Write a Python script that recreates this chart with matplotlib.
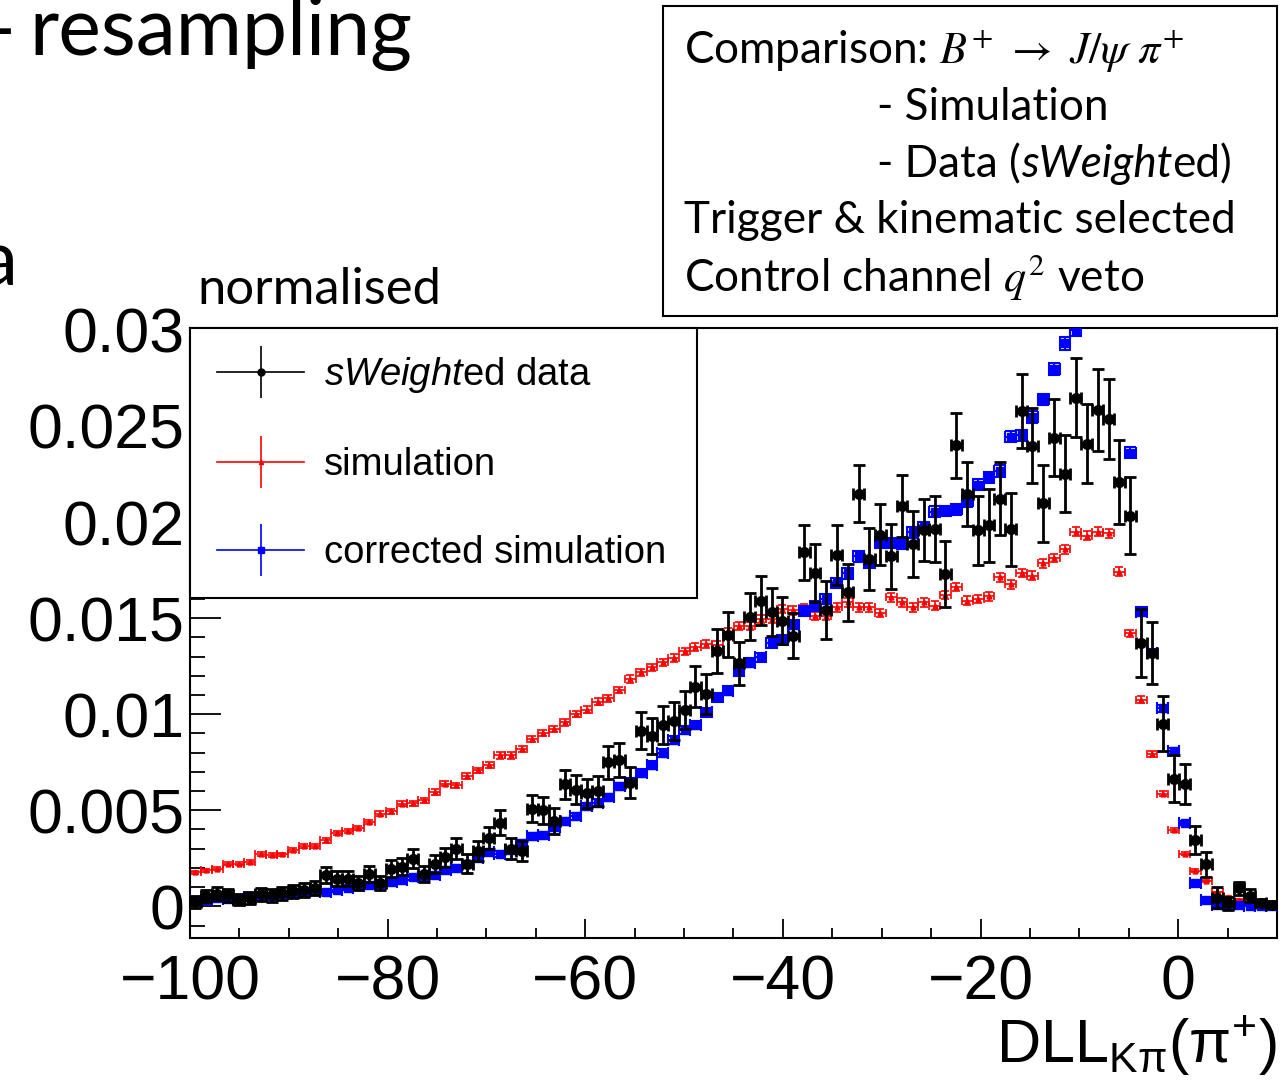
import numpy as np
import matplotlib
matplotlib.use("Agg")
import matplotlib.pyplot as plt
from matplotlib.font_manager import FontProperties
from matplotlib.legend_handler import HandlerTuple
from matplotlib.lines import Line2D
from matplotlib.patches import Rectangle
from matplotlib.ticker import MultipleLocator, FuncFormatter

# ---------------------------------------------------------------------------
# Data: 100 bins of DLL_Kpi between -100 and 10 (normalised histograms)
# ---------------------------------------------------------------------------

x_lo, x_hi, n_bins = -100.0, 10.0, 100

sim = [
    0.00178, 0.00187, 0.00196, 0.00222, 0.00222, 0.00230, 0.00274, 0.00265, 0.00270, 0.00295,
    0.00314, 0.00314, 0.00343, 0.00381, 0.00392, 0.00407, 0.00438, 0.00482, 0.00495, 0.00534,
    0.00537, 0.00551, 0.00594, 0.00638, 0.00629, 0.00677, 0.00707, 0.00737, 0.00785, 0.00785,
    0.00820, 0.00872, 0.00901, 0.00924, 0.00958, 0.01002, 0.01022, 0.01064, 0.01083, 0.01126,
    0.01183, 0.01218, 0.01244, 0.01270, 0.01293, 0.01327, 0.01348, 0.01365, 0.01362, 0.01426,
    0.01461, 0.01461, 0.01495, 0.01495, 0.01547, 0.01540, 0.01553, 0.01513, 0.01513, 0.01556,
    0.01582, 0.01556, 0.01556, 0.01527, 0.01608, 0.01582, 0.01556, 0.01582, 0.01565, 0.01620,
    0.01663, 0.01591, 0.01600, 0.01613, 0.01713, 0.01676, 0.01735, 0.01721, 0.01786, 0.01813,
    0.01858, 0.01949, 0.01929, 0.01949, 0.01941, 0.01741, 0.01420, 0.01075, 0.00794, 0.00586,
    0.00396, 0.00274, 0.00186, 0.00131, 0.00072, 0.00048, 0.00033, 0.00022, 0.00010, 0.00005,
]
sim_err = [
    0.00008, 0.00008, 0.00008, 0.00009, 0.00009, 0.00009, 0.00010, 0.00010, 0.00010, 0.00010,
    0.00011, 0.00011, 0.00011, 0.00012, 0.00012, 0.00012, 0.00012, 0.00013, 0.00013, 0.00013,
    0.00013, 0.00014, 0.00014, 0.00014, 0.00014, 0.00015, 0.00015, 0.00015, 0.00016, 0.00016,
    0.00016, 0.00016, 0.00017, 0.00017, 0.00017, 0.00017, 0.00018, 0.00018, 0.00018, 0.00018,
    0.00019, 0.00019, 0.00019, 0.00019, 0.00020, 0.00020, 0.00020, 0.00020, 0.00020, 0.00021,
    0.00021, 0.00021, 0.00021, 0.00021, 0.00022, 0.00022, 0.00022, 0.00021, 0.00021, 0.00022,
    0.00022, 0.00022, 0.00022, 0.00021, 0.00022, 0.00022, 0.00022, 0.00022, 0.00022, 0.00022,
    0.00022, 0.00022, 0.00022, 0.00022, 0.00023, 0.00023, 0.00023, 0.00023, 0.00023, 0.00023,
    0.00024, 0.00024, 0.00024, 0.00024, 0.00024, 0.00023, 0.00020, 0.00018, 0.00015, 0.00013,
    0.00011, 0.00009, 0.00008, 0.00006, 0.00005, 0.00004, 0.00004, 0.00003, 0.00002, 0.00002,
]

corr = [
    0.00035, 0.00031, 0.00043, 0.00040, 0.00043, 0.00048, 0.00052, 0.00052, 0.00062, 0.00069,
    0.00074, 0.00078, 0.00074, 0.00087, 0.00095, 0.00104, 0.00109, 0.00118, 0.00126, 0.00137,
    0.00152, 0.00152, 0.00165, 0.00191, 0.00199, 0.00222, 0.00253, 0.00282, 0.00270, 0.00295,
    0.00329, 0.00364, 0.00369, 0.00412, 0.00442, 0.00469, 0.00520, 0.00537, 0.00568, 0.00624,
    0.00646, 0.00693, 0.00737, 0.00797, 0.00866, 0.00918, 0.00944, 0.01010, 0.01088, 0.01123,
    0.01223, 0.01267, 0.01296, 0.01371, 0.01386, 0.01466, 0.01539, 0.01565, 0.01600, 0.01681,
    0.01733, 0.01821, 0.01787, 0.01894, 0.01890, 0.01885, 0.01946, 0.01972, 0.02053, 0.02058,
    0.02067, 0.02107, 0.02194, 0.02232, 0.02266, 0.02445, 0.02451, 0.02546, 0.02638, 0.02798,
    0.02930, 0.03001, 0.03150, 0.03200, 0.03180, 0.03100, 0.02360, 0.01534, 0.01318, 0.01030,
    0.00808, 0.00433, 0.00119, 0.00034, 0.00007, 0.00006, 0.00005, 0.00004, 0.00003, 0.00002,
]
corr_err = [
    0.00008, 0.00008, 0.00009, 0.00009, 0.00009, 0.00009, 0.00010, 0.00010, 0.00010, 0.00010,
    0.00011, 0.00011, 0.00011, 0.00011, 0.00012, 0.00012, 0.00012, 0.00012, 0.00013, 0.00013,
    0.00013, 0.00013, 0.00014, 0.00014, 0.00014, 0.00015, 0.00015, 0.00016, 0.00016, 0.00016,
    0.00017, 0.00017, 0.00017, 0.00018, 0.00018, 0.00018, 0.00019, 0.00019, 0.00019, 0.00020,
    0.00020, 0.00020, 0.00021, 0.00021, 0.00022, 0.00022, 0.00022, 0.00023, 0.00023, 0.00023,
    0.00024, 0.00024, 0.00024, 0.00025, 0.00025, 0.00025, 0.00026, 0.00026, 0.00026, 0.00026,
    0.00027, 0.00027, 0.00027, 0.00027, 0.00027, 0.00027, 0.00028, 0.00028, 0.00028, 0.00028,
    0.00028, 0.00028, 0.00029, 0.00029, 0.00029, 0.00030, 0.00030, 0.00030, 0.00031, 0.00031,
    0.00032, 0.00032, 0.00033, 0.00033, 0.00033, 0.00032, 0.00029, 0.00024, 0.00022, 0.00019,
    0.00017, 0.00012, 0.00007, 0.00004, 0.00002, 0.00002, 0.00002, 0.00002, 0.00001, 0.00001,
]

data = [
    0.00022, 0.00052, 0.00066, 0.00057, 0.00035, 0.00043, 0.00062, 0.00057, 0.00069, 0.00078,
    0.00087, 0.00095, 0.00165, 0.00144, 0.00144, 0.00121, 0.00170, 0.00121, 0.00196, 0.00206,
    0.00248, 0.00170, 0.00222, 0.00256, 0.00300, 0.00222, 0.00288, 0.00357, 0.00435, 0.00300,
    0.00288, 0.00508, 0.00499, 0.00444, 0.00634, 0.00606, 0.00589, 0.00600, 0.00750, 0.00762,
    0.00643, 0.00915, 0.00885, 0.00944, 0.00963, 0.01022, 0.01144, 0.01106, 0.01327, 0.01414,
    0.01265, 0.01507, 0.01591, 0.01533, 0.01487, 0.01408, 0.01842, 0.01734, 0.01542, 0.01828,
    0.01634, 0.02148, 0.01807, 0.01934, 0.01821, 0.02084, 0.01885, 0.01958, 0.01963, 0.01729,
    0.02400, 0.02148, 0.01958, 0.01984, 0.02121, 0.01962, 0.02577, 0.02398, 0.02098, 0.02440,
    0.02251, 0.02648, 0.02408, 0.02583, 0.02537, 0.02210, 0.02033, 0.01370, 0.01318, 0.00951,
    0.00665, 0.00637, 0.00345, 0.00219, 0.00045, 0.00015, 0.00095, 0.00056, 0.00019, 0.00009,
]
data_err = [
    0.00030, 0.00032, 0.00034, 0.00033, 0.00030, 0.00031, 0.00033, 0.00033, 0.00034, 0.00035,
    0.00036, 0.00037, 0.00042, 0.00040, 0.00040, 0.00038, 0.00042, 0.00038, 0.00044, 0.00045,
    0.00049, 0.00042, 0.00047, 0.00050, 0.00054, 0.00048, 0.00053, 0.00058, 0.00064, 0.00055,
    0.00054, 0.00070, 0.00069, 0.00066, 0.00078, 0.00076, 0.00075, 0.00076, 0.00086, 0.00087,
    0.00080, 0.00095, 0.00093, 0.00097, 0.00098, 0.00101, 0.00107, 0.00105, 0.00115, 0.00119,
    0.00112, 0.00123, 0.00126, 0.00124, 0.00122, 0.00118, 0.00143, 0.00150, 0.00153, 0.00157,
    0.00150, 0.00150, 0.00160, 0.00160, 0.00170, 0.00160, 0.00170, 0.00160, 0.00170, 0.00170,
    0.00170, 0.00166, 0.00180, 0.00190, 0.00190, 0.00190, 0.00194, 0.00194, 0.00200, 0.00200,
    0.00200, 0.00206, 0.00205, 0.00212, 0.00210, 0.00218, 0.00200, 0.00178, 0.00163, 0.00143,
    0.00124, 0.00104, 0.00075, 0.00066, 0.00053, 0.00036, 0.00034, 0.00032, 0.00020, 0.00020,
]

edges = np.linspace(x_lo, x_hi, n_bins + 1)
centers = 0.5 * (edges[:-1] + edges[1:])
half_w = 0.5 * np.diff(edges)

# ---------------------------------------------------------------------------
# Figure
# ---------------------------------------------------------------------------

W, H = 1283, 1084
plt.rcParams["font.family"] = ["Liberation Sans", "DejaVu Sans"]
plt.rcParams["mathtext.fontset"] = "custom"
plt.rcParams["mathtext.rm"] = "Liberation Sans"
plt.rcParams["mathtext.it"] = "Liberation Sans:italic"
plt.rcParams["mathtext.bf"] = "Liberation Sans:bold"
plt.rcParams["axes.unicode_minus"] = True


def px(x, y):
    """image pixel (from top-left) -> figure fraction"""
    return x / W, 1 - y / H


fig = plt.figure(figsize=(W / 100, H / 100), dpi=100)
ax_w, ax_h = 1087, 610
ax = fig.add_axes([190 / W, 1 - 938 / H, ax_w / W, ax_h / H])

ax.errorbar(centers, sim, xerr=half_w, yerr=sim_err, fmt="^", color="red",
            ms=3.5, lw=1.2, capsize=3, capthick=1.2, zorder=2)
ax.errorbar(centers, corr, xerr=half_w, yerr=corr_err, fmt="s", color="blue",
            ms=6, lw=1.5, capsize=4, capthick=1.5, zorder=3)
ax.errorbar(centers, data, xerr=half_w, yerr=data_err, fmt="o", color="black",
            ms=7, lw=2, capsize=4.5, capthick=2, zorder=4)

ax.set_xlim(x_lo, x_hi)
ax.set_ylim(-0.00165, 0.0301)
ax.xaxis.set_major_locator(MultipleLocator(20))
ax.xaxis.set_minor_locator(MultipleLocator(5))
ax.yaxis.set_major_locator(MultipleLocator(0.005))
ax.yaxis.set_minor_locator(MultipleLocator(0.001))
ax.yaxis.set_major_formatter(FuncFormatter(lambda v, p: f"{v:g}"))
ax.tick_params(axis="both", which="both", direction="in", top=False, right=False,
               labelsize=45, width=1.3)
ax.tick_params(axis="x", which="major", length=14, pad=11)
ax.tick_params(axis="x", which="minor", length=7)
ax.tick_params(axis="y", which="major", length=22, pad=4)
ax.tick_params(axis="y", which="minor", length=11)
for s in ax.spines.values():
    s.set_linewidth(1.5)

# ROOT-style legend: horizontal line + vertical error bar through the marker
def leg_handle(c, m, ms):
    return (Line2D([], [], color=c, lw=1.2, marker=m, ms=ms),
            Line2D([], [], color=c, ls="none", marker="|", ms=38, mew=1.2))

leg = ax.legend(
    [leg_handle("black", "o", 5), leg_handle("red", "^", 3), leg_handle("blue", "s", 4.5)],
    [r"$\mathit{sWeight}$ed data", "simulation", "corrected simulation"],
    handler_map={tuple: HandlerTuple(ndivide=1)},
    loc="upper left", bbox_to_anchor=(0, 0, 507 / ax_w, 1), mode="expand",
    borderaxespad=0, fancybox=False, framealpha=1,
    edgecolor="black", prop=FontProperties(family="Liberation Sans", size=27.5),
    handlelength=2.28, handletextpad=0.52, borderpad=0.71, labelspacing=1.36,
)
leg.get_frame().set_linewidth(1.5)

# x axis title
fig.text(*px(1277, 1062), r"DLL$_{\mathrm{K\pi}}$($\mathrm{\pi}^{+}$)",
         ha="right", va="baseline", fontsize=44)

# ---------------------------------------------------------------------------
# Slide text around the plot
# ---------------------------------------------------------------------------

slide = dict(family=["Lato", "DejaVu Sans"], va="baseline")
fig.text(*px(29, 55), "resampling", fontsize=58, **slide)
fig.text(*px(16, 55), "-", fontsize=58, ha="right", **slide)
fig.text(*px(19, 285), "Data", fontsize=56, ha="right", **slide)
fig.text(*px(197, 304), "normalised", fontsize=36.5, **slide)

fig.add_artist(Rectangle(px(663, 316), 614 / W, 310 / H, transform=fig.transFigure,
                         fill=False, ec="black", lw=1.5))
box = dict(fontsize=31.8, **slide)
fig.text(*px(684, 63), r"Comparison: $B^{+}\ \rightarrow\ J/\psi\ \pi^{+}$",
         math_fontfamily="stix", **box)
fig.text(*px(877, 120), "- Simulation", **box)
t_a = fig.text(*px(877, 177), "- Data (", **box)
t_b = fig.text(*px(877, 177), "sWeight", style="italic", **box)
t_c = fig.text(*px(877, 177), "ed)", **box)
fig.text(*px(684, 233), "Trigger & kinematic selected", **box)
fig.text(*px(684, 291), r"Control channel $q^{2}$ veto", math_fontfamily="stix", **box)

fig.canvas.draw()
rend = fig.canvas.get_renderer()
t_b.set_x(t_a.get_window_extent(rend).x1 / W)
t_c.set_x(t_b.get_window_extent(rend).x1 / W)

fig.savefig("out.png", dpi=100)
plt.close(fig)
